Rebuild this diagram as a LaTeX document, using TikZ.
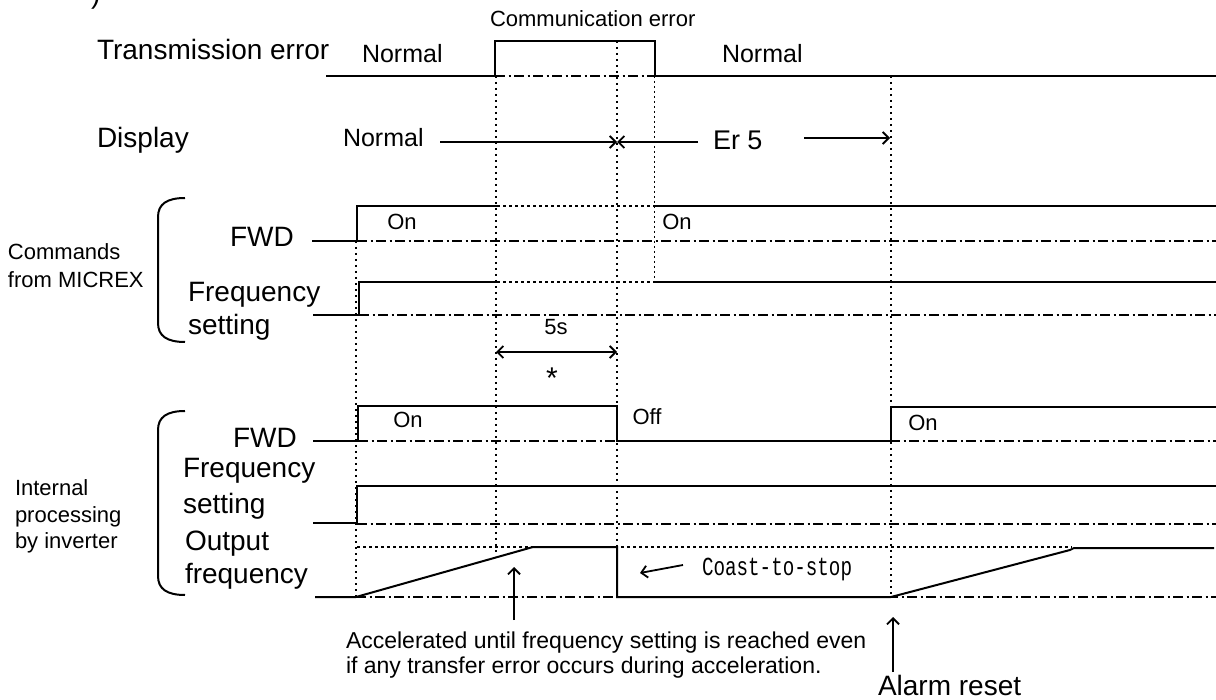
\documentclass[tikz,border=0pt]{standalone}
\usepackage{fontspec}
\setmainfont{Liberation Sans}
\newfontfamily\monofnt{Liberation Mono}
\usetikzlibrary{arrows.meta}
\begin{document}
\begin{tikzpicture}[x=1pt,y=-1pt,
  sig/.style={line width=2pt, line join=miter},
  zero/.style={line width=1.4pt, dash pattern=on 10pt off 3.5pt on 2pt off 3.5pt},
  guide/.style={line width=2pt, dash pattern=on 2pt off 4pt},
  fineguide/.style={line width=1pt, dash pattern=on 2pt off 3pt},
  hguide/.style={line width=1.6pt, dash pattern=on 2.5pt off 3.5pt},
  brace/.style={line width=2pt},
  arr/.style={line width=1.8pt, -{Straight Barb[length=6pt,width=12pt]}},
  txt/.style={inner sep=0pt, outer sep=0pt},
  big/.style={txt, anchor=base west, font=\fontsize{28}{33}\selectfont},
  mid/.style={txt, anchor=base west, font=\fontsize{25}{30}\selectfont},
  small/.style={txt, font=\fontsize{22}{27}\selectfont},
  note/.style={txt, anchor=base west, font=\fontsize{23}{27}\selectfont},
  side/.style={txt, anchor=base west, font=\fontsize{22}{27}\selectfont},
]
\useasboundingbox (0,0) rectangle (1216,700);

% cropped heading remnant
\node[big] (head) at (91,4) {)};

% ---- vertical timing guides
\draw[guide] (356,241) -- (356,597);
\draw[guide] (496,76) -- (496,556);
\draw[guide] (617,41) -- (617,547);
\draw[fineguide] (654,76) -- (654,282);
\draw[guide] (891,76) -- (891,597);

% ---- transmission error
\node[big] (tx) at (97,60) {Transmission error};
\node[mid] (txn1) at (362,63) {Normal};
\node[txt, anchor=base west, font=\fontsize{22}{26}\selectfont] (comm) at (490,27) {Communication error};
\node[mid] (txn2) at (722,63) {Normal};
\draw[zero] (495,76) -- (655,76);
\draw[sig] (326,76) -- (495,76) -- (495,41) -- (655,41) -- (655,76) -- (1216,76);

% ---- display
\node[big] (disp) at (97,148) {Display};
\node[mid] (dnorm) at (343,147) {Normal};
\node[txt, anchor=base west, font=\fontsize{27}{32}\selectfont] (er5) at (713,150) {Er 5};
\coordinate (dA) at (440,142);
\coordinate (dX) at (617,142);
\coordinate (dB) at (698,142);
\coordinate (dC) at (804,138);
\coordinate (dD) at (890,138);
\draw[arr] (dA) -- (dX);
\draw[arr] (dB) -- (dX);
\draw[arr] (dC) -- (dD);

% ---- commands from MICREX
\node[side] (cmd1) at (8,260) {Commands};
\node[side] (cmd2) at (8,288) {from MICREX};
\draw[brace] (185,198) .. controls (167,198) and (158,204) .. (158,217) -- (158,323) .. controls (158,336) and (167,342) .. (185,342);
\node[big] (cfwd) at (230,247) {FWD};
\node[big] (cfs1) at (188,302) {Frequency};
\node[big] (cfs2) at (188,335) {setting};

\draw[hguide] (497,206) -- (654,206);
\draw[zero] (357,241) -- (1216,241);
\draw[sig] (312,241) -- (357,241) -- (357,206) -- (497,206);
\draw[sig] (654,206) -- (1216,206);
\node[small] (con1) at (402,222) {On};
\node[small] (con2) at (677,222) {On};

\draw[hguide] (497,282) -- (654,282);
\draw[zero] (359,315) -- (1216,315);
\draw[sig] (313,315) -- (359,315) -- (359,282) -- (497,282);
\draw[sig] (654,282) -- (1216,282);

% ---- 5 s timeout
\node[small] (t5) at (556,327) {5s};
\coordinate (tA) at (496,352);
\coordinate (tB) at (617,352);
\draw[arr, {Straight Barb[length=6pt,width=12pt]}-{Straight Barb[length=6pt,width=12pt]}] (tA) -- (tB);
\node[txt, font=\fontsize{30}{30}\selectfont] (star) at (552,378) {*};

% ---- internal processing by inverter
\node[side] (in1) at (15,495) {Internal};
\node[side] (in2) at (15,522) {processing};
\node[side] (in3) at (15,548) {by inverter};
\draw[brace] (185,411) .. controls (167,411) and (158,417) .. (158,430) -- (158,576) .. controls (158,589) and (167,595) .. (185,595);
\node[big] (ifwd) at (233,448) {FWD};
\node[big] (ifs1) at (183,478) {Frequency};
\node[big] (ifs2) at (183,513) {setting};
\node[big] (iof1) at (185,550) {Output};
\node[big] (iof2) at (185,583) {frequency};

\draw[zero] (358,441) -- (1216,441);
\draw[sig] (313,441) -- (358,441) -- (358,406) -- (617,406) -- (617,441) -- (891,441) -- (891,407) -- (1216,407);
\node[small] (ion1) at (408,420) {On};
\node[small] (ioff) at (647,417) {Off};
\node[small] (ion2) at (923,423) {On};

\draw[zero] (357,524) -- (1216,524);
\draw[sig] (313,523) -- (357,523) -- (357,486) -- (1216,486);

\draw[hguide] (357,547) -- (1072,547);
\draw[zero] (356,597) -- (1216,597);
\draw[sig] (315,597) -- (356,597) -- (533,547) -- (617,547) -- (617,597) -- (891,597) -- (1070,550) -- (1074,548) -- (1214,548);

% coast-to-stop note
\node[txt, anchor=base west, font=\monofnt\fontsize{26}{26}\selectfont] (coast) at (702,575) {\scalebox{0.74}[1]{Coast-to-stop}};
\coordinate (cA) at (683,565);
\coordinate (cB) at (640,573);
\draw[arr] (cA) -- (cB);

% ---- notes below
\coordinate (aA) at (514,620);
\coordinate (aB) at (514,567);
\draw[arr] (aA) -- (aB);
\node[note] (acc1) at (346,648) {Accelerated until frequency setting is reached even};
\node[note] (acc2) at (346,673) {if any transfer error occurs during acceleration.};

\coordinate (rA) at (893,672);
\coordinate (rB) at (893,617);
\draw[arr] (rA) -- (rB);
\node[big] (reset) at (878,695) {Alarm reset};
\end{tikzpicture}
\end{document}
